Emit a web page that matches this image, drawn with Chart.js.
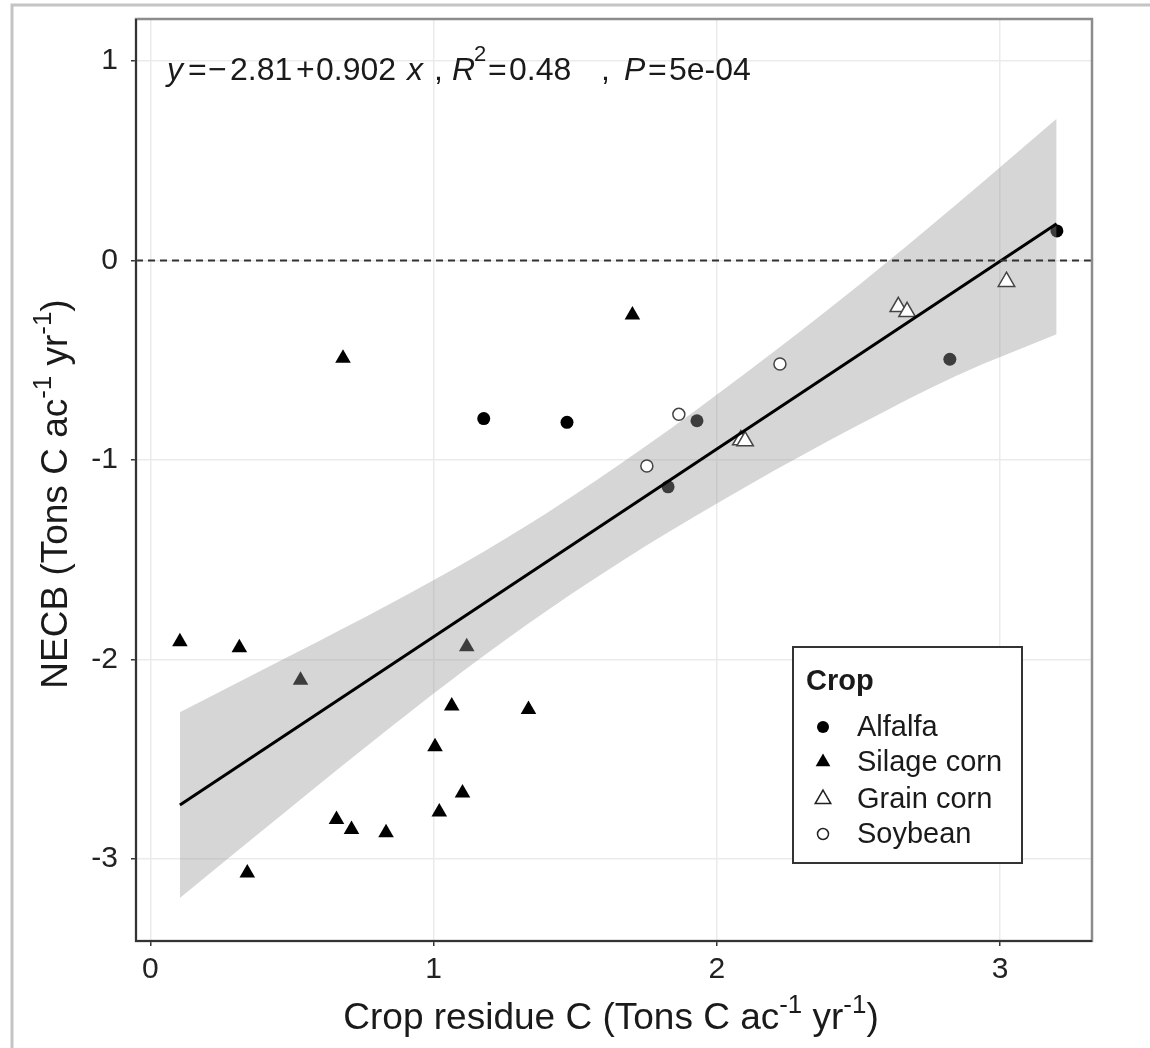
<!DOCTYPE html>
<html>
<head>
<meta charset="utf-8">
<script src="https://cdn.jsdelivr.net/npm/chart.js@4.4.0/dist/chart.umd.min.js"></script>
<style>
  html, body { margin: 0; padding: 0; background: #fff; }
</style>
</head>
<body>
<canvas id="chart" width="1150" height="1048"></canvas>
<script>
// values
const alfalfaX = [1.177, 1.471, 1.930, 1.828, 2.823, 3.201];
const alfalfaY = [-0.792, -0.811, -0.803, -1.134, -0.495, 0.148];

const silageX = [0.104, 0.314, 0.530, 0.680, 1.117, 1.702, 1.064, 1.335, 1.005, 1.102, 1.020, 0.657, 0.710, 0.832, 0.342];
const silageY = [-1.911, -1.941, -2.103, -0.490, -1.936, -0.273, -2.233, -2.250, -2.437, -2.668, -2.763, -2.801, -2.851, -2.868, -3.069];

const grainX = [2.085, 2.100, 2.641, 2.672, 3.023];
const grainY = [-0.900, -0.905, -0.232, -0.257, -0.106];

const soyX = [1.866, 2.223, 1.753];
const soyY = [-0.771, -0.519, -1.030];

const fitX = [0.104, 3.2];
const fitY = [-2.729, 0.184];

const bandX = [0.104, 0.5, 0.85, 1.1, 1.4, 1.75, 2.1, 2.5, 2.85, 3.2];
const bandUpper = [-2.264, -1.976, -1.717, -1.522, -1.265, -0.930, -0.566, -0.125, 0.285, 0.71];
const bandLower = [-3.194, -2.736, -2.337, -2.062, -1.755, -1.430, -1.136, -0.825, -0.575, -0.37];

const xTicks = [0, 1, 2, 3];
const yTicks = [-3, -2, -1, 0, 1];
const refLineY = [0];

const FONT = "'Liberation Sans', Arial, sans-serif";

function pts(xs, ys) {
    return xs.map((x, i) => ({ x: x, y: ys[i] }));
}

// draw a string made of normal / superscript pieces
function drawParts(ctx, parts, size, measureOnly) {
    let w = 0;
    parts.forEach(p => {
        const s = p.sup ? size * 0.7 : size;
        ctx.font = s + 'px ' + FONT;
        if (!measureOnly) {
            ctx.fillText(p.t, w, p.sup ? -size * 0.42 : 0);
        }
        w += ctx.measureText(p.t).width;
    });
    return w;
}

const unitParts = [
    { t: ' (Tons C ac' }, { t: '-1', sup: true }, { t: ' yr' }, { t: '-1', sup: true }, { t: ')' }
];

const extras = {
    id: 'extras',
    afterDatasetsDraw(chart) {
        const ctx = chart.ctx;
        const a = chart.chartArea;
        const ys = chart.scales.y;
        ctx.save();
        // dashed reference line
        ctx.strokeStyle = '#333';
        ctx.lineWidth = 1.8;
        ctx.setLineDash([7, 5]);
        refLineY.forEach(v => {
            const py = ys.getPixelForValue(v);
            ctx.beginPath();
            ctx.moveTo(a.left, py);
            ctx.lineTo(a.right, py);
            ctx.stroke();
        });
        ctx.setLineDash([]);
        ctx.restore();
    },
    afterDraw(chart) {
        const ctx = chart.ctx;
        const a = chart.chartArea;
        ctx.save();

        // outer figure frame
        ctx.strokeStyle = '#c4c4c4';
        ctx.lineWidth = 3;
        ctx.beginPath();
        ctx.moveTo(12, 1048);
        ctx.lineTo(12, 5);
        ctx.lineTo(1150, 5);
        ctx.stroke();

        // panel border
        ctx.strokeStyle = '#8c8c8c';
        ctx.lineWidth = 2.5;
        ctx.strokeRect(a.left, a.top, a.right - a.left, a.bottom - a.top);
        ctx.strokeStyle = '#333';
        ctx.lineWidth = 2;
        ctx.beginPath();
        ctx.moveTo(a.left, a.top);
        ctx.lineTo(a.left, a.bottom);
        ctx.lineTo(a.right, a.bottom);
        ctx.stroke();

        ctx.fillStyle = '#1a1a1a';
        ctx.textBaseline = 'alphabetic';
        ctx.textAlign = 'left';

        // equation annotation
        const eq = [
            ['y', 167, 'i'], ['=', 188], ['\u2212', 208], ['2.81', 230], ['+', 296],
            ['0.902', 316], ['x', 407, 'i'], [',', 434], ['R', 452, 'i'], ['2', 474, 's'],
            ['=', 488], ['0.48', 509], [',', 601], ['P', 624, 'i'], ['=', 648], ['5e-04', 669]
        ];
        eq.forEach(e => {
            const sup = e[2] === 's';
            const size = sup ? 22 : 32;
            ctx.font = (e[2] === 'i' ? 'italic ' : '') + size + 'px ' + FONT;
            ctx.fillText(e[0], e[1], sup ? 61 : 80);
        });

        // x axis title
        const xParts = [{ t: 'Crop residue C' }].concat(unitParts);
        const xw = drawParts(ctx, xParts, 37, true);
        ctx.save();
        ctx.translate((a.left + a.right) / 2 - 3 - xw / 2, 1029);
        drawParts(ctx, xParts, 37, false);
        ctx.restore();

        // y axis title
        const yParts = [{ t: 'NECB' }].concat(unitParts);
        const yw = drawParts(ctx, yParts, 37, true);
        ctx.save();
        ctx.translate(67, 494 + yw / 2);
        ctx.rotate(-Math.PI / 2);
        drawParts(ctx, yParts, 37, false);
        ctx.restore();

        // legend
        ctx.fillStyle = '#fff';
        ctx.fillRect(793, 647, 229, 216);
        ctx.strokeStyle = '#333';
        ctx.lineWidth = 2;
        ctx.strokeRect(793, 647, 229, 216);
        ctx.fillStyle = '#1a1a1a';
        ctx.font = 'bold 29px ' + FONT;
        ctx.textBaseline = 'middle';
        ctx.fillText('Crop', 806, 682);
        const items = [
            ['Alfalfa', 'circle', true, 727],
            ['Silage corn', 'triangle', true, 762],
            ['Grain corn', 'triangle', false, 799],
            ['Soybean', 'circle', false, 834]
        ];
        items.forEach(it => {
            const cx = 823, cy = it[3];
            ctx.beginPath();
            if (it[1] === 'circle') {
                ctx.arc(cx, cy, it[2] ? 6 : 5.5, 0, Math.PI * 2);
            } else {
                const r = it[2] ? 8.5 : 9;
                ctx.moveTo(cx, cy - r);
                ctx.lineTo(cx + r * 0.866, cy + r / 2);
                ctx.lineTo(cx - r * 0.866, cy + r / 2);
                ctx.closePath();
            }
            if (it[2]) {
                ctx.fillStyle = '#000';
                ctx.fill();
            } else {
                ctx.fillStyle = '#fff';
                ctx.fill();
                ctx.strokeStyle = '#222';
                ctx.lineWidth = 1.5;
                ctx.stroke();
            }
            ctx.fillStyle = '#1a1a1a';
            ctx.font = '29px ' + FONT;
            ctx.fillText(it[0], 857, cy + 1);
        });

        ctx.restore();
    }
};

const ribbonFill = 'rgba(153, 153, 153, 0.4)';

new Chart(document.getElementById('chart'), {
    type: 'scatter',
    data: {
        datasets: [
            {
                label: 'Alfalfa',
                data: pts(alfalfaX, alfalfaY),
                pointStyle: 'circle',
                pointRadius: 6.5,
                backgroundColor: '#000',
                borderColor: '#000',
                borderWidth: 0,
                order: 3
            },
            {
                label: 'Silage corn',
                data: pts(silageX, silageY),
                pointStyle: 'triangle',
                pointRadius: 9,
                backgroundColor: '#000',
                borderColor: '#000',
                borderWidth: 0,
                order: 3
            },
            {
                label: 'band upper',
                type: 'line',
                data: pts(bandX, bandUpper),
                borderWidth: 0,
                borderColor: 'rgba(0,0,0,0)',
                pointRadius: 0,
                backgroundColor: ribbonFill,
                fill: '+1',
                cubicInterpolationMode: 'monotone',
                order: 2
            },
            {
                label: 'band lower',
                type: 'line',
                data: pts(bandX, bandLower),
                borderWidth: 0,
                borderColor: 'rgba(0,0,0,0)',
                pointRadius: 0,
                fill: false,
                cubicInterpolationMode: 'monotone',
                order: 2
            },
            {
                label: 'Grain corn',
                data: pts(grainX, grainY),
                pointStyle: 'triangle',
                pointRadius: 9.5,
                backgroundColor: '#fff',
                borderColor: '#444',
                borderWidth: 1.5,
                order: 1
            },
            {
                label: 'Soybean',
                data: pts(soyX, soyY),
                pointStyle: 'circle',
                pointRadius: 6,
                backgroundColor: '#fff',
                borderColor: '#444',
                borderWidth: 1.5,
                order: 1
            },
            {
                label: 'fit',
                type: 'line',
                data: pts(fitX, fitY),
                borderColor: '#000',
                borderWidth: 3,
                pointRadius: 0,
                fill: false,
                order: 0
            }
        ]
    },
    options: {
        responsive: false,
        animation: false,
        devicePixelRatio: 1,
        layout: { padding: { top: 19, right: 58, left: 0, bottom: 0 } },
        plugins: {
            legend: { display: false },
            tooltip: { enabled: false }
        },
        scales: {
            x: {
                type: 'linear',
                min: -0.051,
                max: 3.325,
                afterBuildTicks: s => { s.ticks = xTicks.map(v => ({ value: v })); },
                afterFit: s => { s.height = 107; s.paddingLeft = 0; s.paddingRight = 0; },
                border: { display: false },
                grid: { color: '#ebebeb', lineWidth: 1.5, tickColor: '#333', tickLength: 5, tickWidth: 1.5 },
                ticks: { color: '#222', font: { family: FONT, size: 30 }, padding: 6, maxRotation: 0 }
            },
            y: {
                type: 'linear',
                min: -3.41,
                max: 1.21,
                afterBuildTicks: s => { s.ticks = yTicks.map(v => ({ value: v })); },
                afterFit: s => { s.width = 136; s.paddingTop = 0; s.paddingBottom = 0; },
                border: { display: false },
                grid: { color: '#ebebeb', lineWidth: 1.5, tickColor: '#333', tickLength: 5, tickWidth: 1.5 },
                ticks: { color: '#222', font: { family: FONT, size: 30 }, padding: 13 }
            }
        }
    },
    plugins: [extras]
});
</script>
</body>
</html>
